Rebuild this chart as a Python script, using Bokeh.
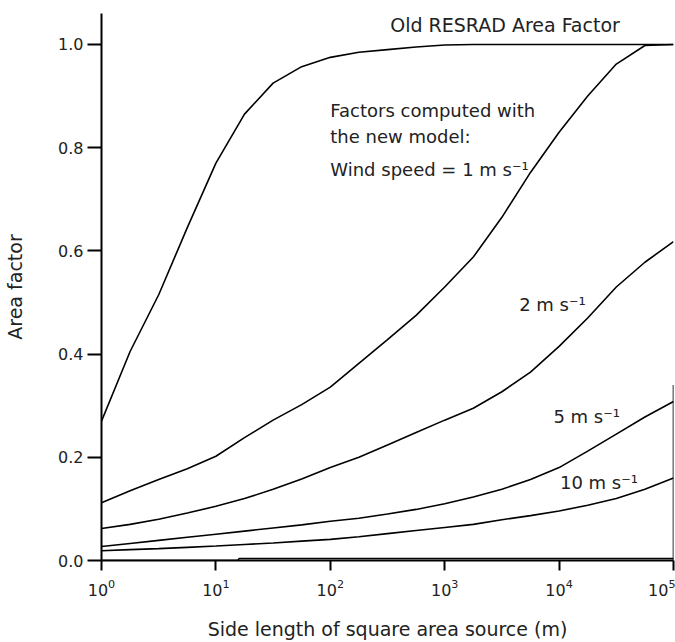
from bokeh.plotting import figure
from bokeh.models import Range1d, FixedTicker, Label, NumeralTickFormatter
from bokeh.embed import file_html
from bokeh.resources import INLINE

# ---- data ----
side_length = [1, 1.778, 3.162, 5.623, 10, 17.78, 31.62, 56.23, 100, 177.8, 316.2,
               562.3, 1000, 1778, 3162, 5623, 10000, 17783, 31623, 56234, 100000]

old_resrad = [0.27, 0.405, 0.515, 0.645, 0.77, 0.865, 0.925, 0.957, 0.975, 0.985, 0.99,
              0.995, 0.999, 1.0, 1.0, 1.0, 1.0, 1.0, 1.0, 1.0, 1.0]
wind_1 = [0.112, 0.135, 0.157, 0.178, 0.202, 0.238, 0.272, 0.302, 0.336, 0.382, 0.428,
          0.475, 0.53, 0.588, 0.665, 0.752, 0.83, 0.9, 0.962, 0.998, 1.0]
wind_2 = [0.062, 0.07, 0.08, 0.092, 0.105, 0.12, 0.138, 0.158, 0.18, 0.2, 0.224,
          0.248, 0.272, 0.295, 0.327, 0.365, 0.415, 0.47, 0.53, 0.578, 0.618]
wind_5 = [0.027, 0.033, 0.039, 0.045, 0.051, 0.057, 0.063, 0.069, 0.076, 0.082, 0.09,
          0.099, 0.11, 0.123, 0.138, 0.157, 0.18, 0.212, 0.245, 0.278, 0.308]
wind_10 = [0.019, 0.021, 0.023, 0.0255, 0.028, 0.031, 0.034, 0.0375, 0.041, 0.046, 0.052,
           0.058, 0.064, 0.07, 0.079, 0.087, 0.096, 0.107, 0.12, 0.138, 0.16]

base_side = [1, 15.5, 16, 100000]
base_line = [0.0, 0.0, 0.004, 0.004]

edge_side = [100000, 100000]
edge_y = [0.0, 0.34]

x_ticks = [1, 10, 100, 1000, 10000, 100000]
y_ticks = [0.0, 0.2, 0.4, 0.6, 0.8, 1.0]

notes = ["Old RESRAD Area Factor", "Factors computed with", "the new model:",
         "Wind speed = 1 m s\u207b\u00b9", "2 m s\u207b\u00b9", "5 m s\u207b\u00b9", "10 m s\u207b\u00b9"]
note_x = [334, 100, 100, 100, 4477, 8913, 10180]
note_y = [1.037, 0.872, 0.822, 0.757, 0.496, 0.280, 0.152]
note_size = ["19px", "18px", "18px", "18px", "18px", "18px", "18px"]

FONT = "DejaVu Sans"

p = figure(width=675, height=642, x_axis_type="log",
           x_range=Range1d(1, 100000), y_range=Range1d(0, 1.06),
           output_backend="svg", toolbar_location=None,
           min_border_left=101, min_border_right=2, min_border_top=13, min_border_bottom=80)

p.outline_line_color = None
p.xgrid.grid_line_color = None
p.ygrid.grid_line_color = None
p.background_fill_color = "white"
p.border_fill_color = "white"

for ys in [old_resrad, wind_1, wind_2, wind_5, wind_10]:
    p.line(side_length, ys, line_color="black", line_width=1.6)
p.line(base_side, base_line, line_color="black", line_width=1.6)
p.line(edge_side, edge_y, line_color="black", line_width=1.6)

# axes
p.xaxis.ticker = FixedTicker(ticks=x_ticks)
p.yaxis.ticker = FixedTicker(ticks=y_ticks)
p.yaxis.formatter = NumeralTickFormatter(format="0.0")
for ax in (p.xaxis[0], p.yaxis[0]):
    ax.axis_line_width = 2
    ax.axis_line_color = "black"
    ax.major_tick_line_width = 2
    ax.major_tick_line_color = "black"
    ax.major_tick_in = 0
    ax.minor_tick_line_color = None
    ax.major_label_text_font = FONT
    ax.major_label_text_font_size = "16px"
    ax.major_label_text_color = "#222222"
    ax.axis_label_text_font = FONT
    ax.axis_label_text_font_size = "19px"
    ax.axis_label_text_font_style = "normal"
    ax.axis_label_text_color = "#222222"

p.xaxis.major_tick_out = 10
p.xaxis.major_label_standoff = 8
p.xaxis.axis_label = "Side length of square area source (m)"
p.xaxis.axis_label_standoff = 19

p.yaxis.major_tick_out = 14
p.yaxis.major_label_standoff = 4
p.yaxis.axis_label = "Area factor"
p.yaxis.axis_label_standoff = 29

for t, x, y, s in zip(notes, note_x, note_y, note_size):
    p.add_layout(Label(x=x, y=y, text=t, text_font=FONT, text_font_size=s,
                       text_color="#222222", text_align="left", text_baseline="middle"))

open("out.html", "w").write(file_html(p, INLINE))
